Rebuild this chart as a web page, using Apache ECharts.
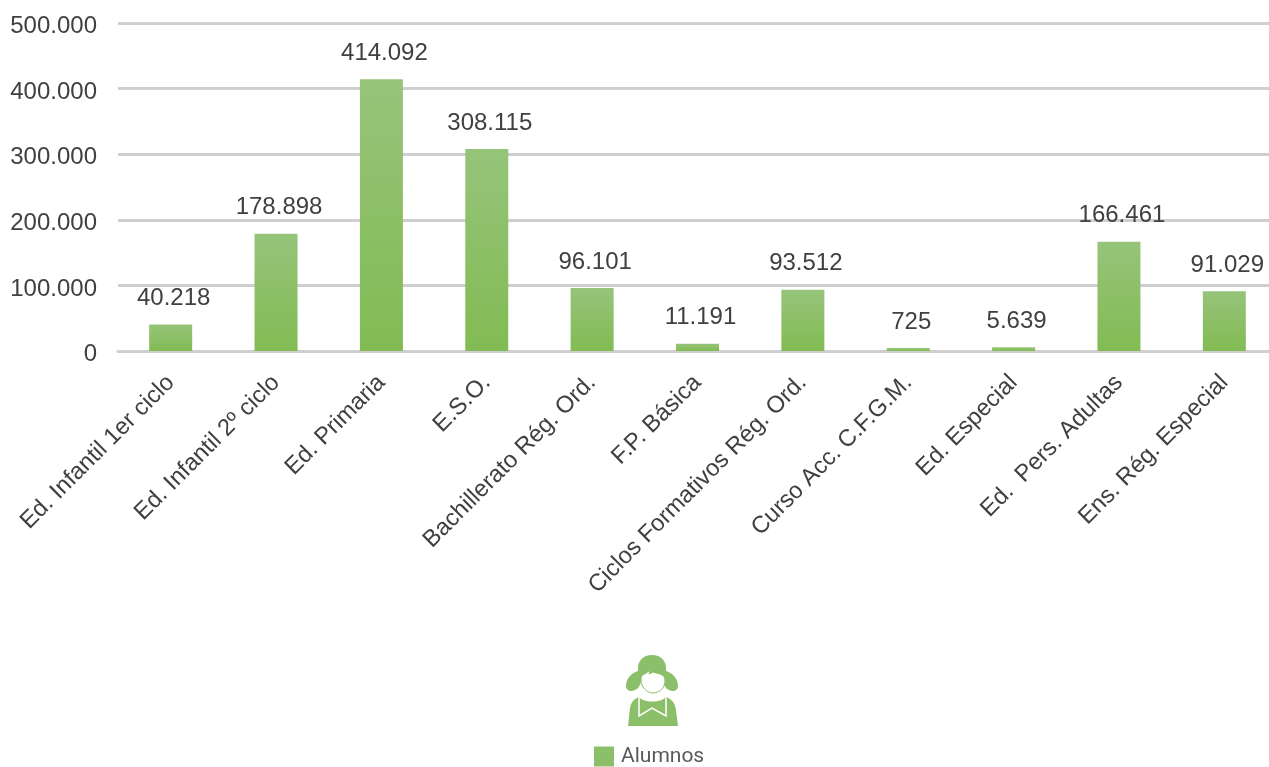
<!DOCTYPE html>
<html>
<head>
<meta charset="utf-8">
<style>html,body{margin:0;padding:0;background:#fff}#c{width:1269px;height:767px}</style>
<script src="https://cdn.jsdelivr.net/npm/echarts@6/dist/echarts.min.js"></script>
</head>
<body>
<div id="c"></div>
<script>
const categories = ["Ed. Infantil 1er ciclo","Ed. Infantil 2º ciclo","Ed. Primaria","E.S.O.","Bachillerato Rég. Ord.","F.P. Básica","Ciclos Formativos Rég. Ord.","Curso Acc. C.F.G.M.","Ed. Especial","Ed.  Pers. Adultas","Ens. Rég. Especial"];
const alumnos = [40218,178898,414092,308115,96101,11191,93512,725,5639,166461,91029];
const seriesName = "Alumnos";
const fmt = v => v === 0 ? "0" : String(v).replace(/\B(?=(\d{3})+$)/g, ".");
const FONT = '"Liberation Sans", Arial, sans-serif';
const GREEN = '#8cbf69';
const iconPaths = {
  iconHair:'M638 671 C637 661 643 655 652 655 C661 655 667 661 666 671 C673 673 678 679 678 686 C678 691 673 692 669 690 C665 688 663 684 663 680 L641 680 C641 684 639 688 635 690 C631 692 626 691 626 686 C626 679 631 673 638 671 Z',
  iconFace:'M641 680 C641 676 643 674 645 674 L650 670 L649 674 L653 672 C658 674 665 673 665 681 C665 688 659 693 653 693 C647 693 641 687 641 680 Z',
  iconBody:'M639 697 C643 703 661 703 666 697 C672 699 675 703 676 710 L678 726 L628 726 L630 708 C631 702 634 699 639 697 Z',
  iconBow:'M639 697 L639 716 L652 708 L666 716 L666 697'
};
Object.keys(iconPaths).forEach(k => echarts.graphic.registerShape(k, echarts.graphic.extendPath(iconPaths[k], {})));
const chart = echarts.init(document.getElementById('c'), null, {renderer:'canvas'});
chart.setOption({
  animation:false,
  backgroundColor:'#fff',
  grid:{left:118,width:1159,top:23,bottom:416,containLabel:false,outerBoundsMode:'none'},
  legend:{show:true,left:594,top:746,itemWidth:20,itemHeight:20,itemGap:0,icon:'rect',padding:0,
    data:[{name:seriesName,itemStyle:{color:GREEN}}],
    textStyle:{color:'#595959',fontSize:21,fontFamily:'Roboto',padding:[4,0,0,2]}},
  xAxis:{type:'category',data:categories,
    axisLine:{show:true,lineStyle:{color:'#cfcfcf',width:3}},
    axisTick:{show:false},
    axisLabel:{interval:0,rotate:45,margin:28,color:'#404040',fontSize:23.7,fontFamily:FONT}},
  yAxis:{type:'value',min:0,max:500000,interval:100000,
    axisLine:{show:false},axisTick:{show:false},
    splitLine:{lineStyle:{color:'#cfcfcf',width:3}},
    axisLabel:{margin:21,color:'#404040',fontSize:24,fontFamily:FONT,
      formatter:v=>'{a|'+fmt(v)+'}',
      rich:{a:{color:'#404040',fontSize:24,fontFamily:FONT,padding:[7,0,0,0]}}}},
  series:[{name:seriesName,type:'bar',data:alumnos,barWidth:43,barMinHeight:3,
    itemStyle:{color:new echarts.graphic.LinearGradient(0,0,0,1,[{offset:0,color:'#96c47a'},{offset:1,color:'#82bb53'}])},
    label:{show:true,position:'top',distance:14,offset:[3,0],color:'#404040',fontSize:24,fontFamily:FONT,formatter:p=>fmt(p.value)}}],
  graphic:[
    {type:'iconHair',silent:true,style:{fill:GREEN}},
    {type:'iconFace',silent:true,style:{fill:'#fff',stroke:GREEN,lineWidth:1}},
    {type:'iconBody',silent:true,style:{fill:GREEN}},
    {type:'iconBow',silent:true,style:{fill:'none',stroke:'#fff',lineWidth:1.5}}
  ]
});
</script>
</body>
</html>
